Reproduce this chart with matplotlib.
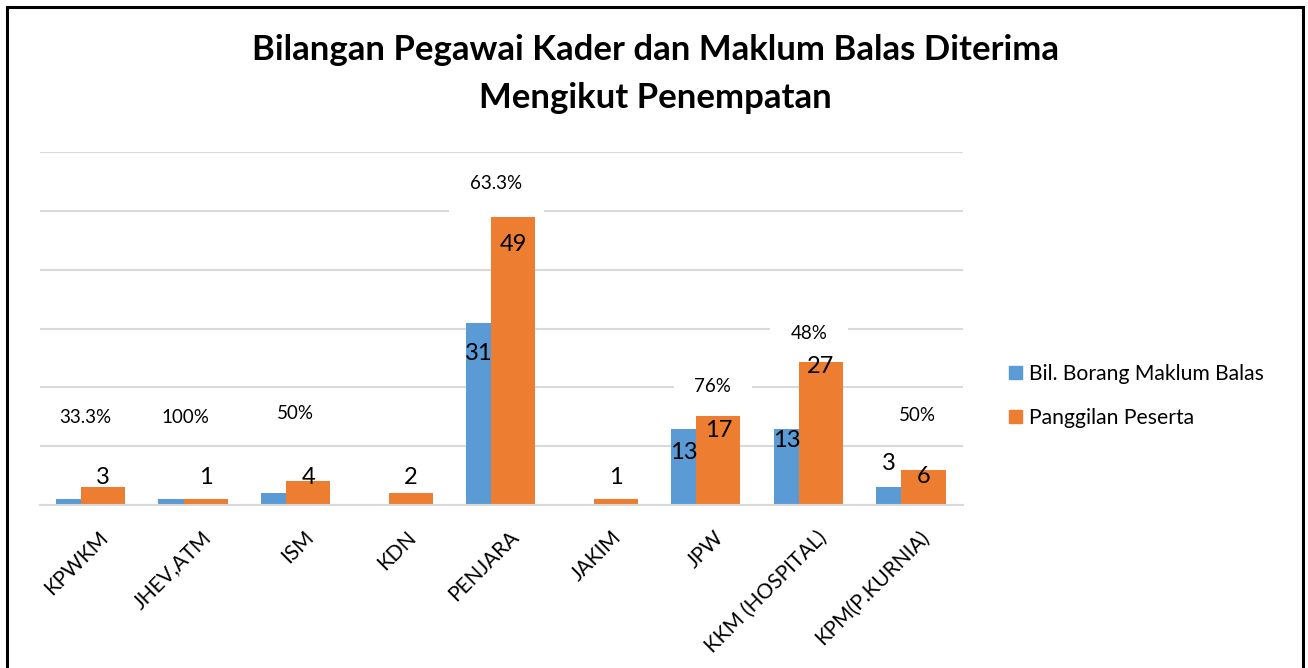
import matplotlib
matplotlib.use("Agg")
import matplotlib.pyplot as plt
from matplotlib.lines import Line2D
from matplotlib.patches import Patch
import numpy as np

plt.rcParams['font.family'] = ['Lato', 'DejaVu Sans']

categories = ["KPWKM", "JHEV,ATM", "ISM", "KDN", "PENJARA", "JAKIM", "JPW",
              "KKM (HOSPITAL)", "KPM(P.KURNIA)"]
borang = [1, 1, 2, 0, 31, 0, 13, 13, 3]
panggilan = [3, 1, 4, 2, 49, 1, 17, 27, 6]
percent_labels = ["33.3%", "100%", "50%", "", "63.3%", "", "76%", "48%", "50%"]
series_names = ["Bil. Borang Maklum Balas", "Panggilan Peserta"]
title = "Bilangan Pegawai Kader dan Maklum Balas Diterima\nMengikut Penempatan"

# label placement (layout only)
borang_label_show = [False, False, False, False, True, False, True, True, True]
borang_label_y = [0, 0, 0, 0, 25.8, 0, 9.0, 11.0, 7.0]
panggilan_label_y = [4.6, 4.6, 4.6, 4.6, 44.2, 4.6, 12.6, 23.6, 4.8]
pct_x = [-0.06, 0.92, 1.99, 0, 3.95, 0, 6.06, 7.0, 8.06]
pct_y = [14.8, 14.8, 15.5, 0, 54.6, 0, 20.1, 29.2, 15.2]
pct_pad = [0.75, 0.75, 0.75, 0, 1.15, 0, 1.1, 1.1, 0.75]

blue = "#5b9bd5"
orange = "#ed7d31"

W, H = 1308, 668
fig = plt.figure(figsize=(W / 100, H / 100), dpi=100)
ax = fig.add_axes([40 / W, 1 - 505 / H, (963 - 40) / W, (505 - 152) / H])

x = np.arange(len(categories))
bw_b = 0.245
bw_o = 0.43
left_b = -0.345
xb = x + left_b + bw_b / 2
xo = x + left_b + bw_b + bw_o / 2
ax.bar(xb, borang, width=bw_b, color=blue, zorder=2, label=series_names[0])
ax.bar(xo, panggilan, width=bw_o, color=orange, zorder=2, label=series_names[1])

ax.set_xlim(-0.5, len(categories) - 0.5)
ax.set_ylim(0, 60)
ax.set_yticks(np.arange(0, 61, 10))
ax.yaxis.grid(True, color="#d9d9d9", linewidth=1.5, zorder=0)
ax.set_axisbelow(True)
ax.tick_params(axis='y', left=False, labelleft=False)
ax.tick_params(axis='x', length=0, pad=16)
for s in ["top", "right", "left"]:
    ax.spines[s].set_visible(False)
ax.spines["bottom"].set_color("#d9d9d9")
ax.spines["bottom"].set_linewidth(1.5)
ax.set_xticks(x)
ax.set_xticklabels(categories, rotation=45, ha="right", va="top",
                   rotation_mode="anchor", fontsize=15)
for lbl in ax.get_xticklabels():
    lbl.set_transform(lbl.get_transform() +
                      matplotlib.transforms.ScaledTranslation(0.07, 0, fig.dpi_scale_trans))

for i in range(len(categories)):
    ax.text(xo[i], panggilan_label_y[i], str(panggilan[i]), ha="center",
            va="center", fontsize=17, color="black", zorder=4)
    if borang_label_show[i]:
        ax.text(xb[i], borang_label_y[i], str(borang[i]), ha="center",
                va="center", fontsize=17, color="black", zorder=4)
    if percent_labels[i]:
        ax.text(pct_x[i], pct_y[i], percent_labels[i], ha="center", va="center",
                fontsize=13.5, color="black", zorder=3,
                bbox=dict(boxstyle="square,pad=%.2f" % pct_pad[i], fc="white",
                          ec="none"))

fig.text(655 / W, 1 - 74 / H, title, ha="center", va="center", fontsize=25,
         fontweight="bold", linespacing=1.62)

handles = [Patch(color=blue), Patch(color=orange)]
fig.legend(handles, series_names, loc="center left",
           bbox_to_anchor=(990 / W, 1 - 396 / H), frameon=False, fontsize=15.2,
           handlelength=0.6, handleheight=0.6, handletextpad=0.35,
           labelspacing=1.15)

lw = 2.2
fig.add_artist(Line2D([7 / W, 7 / W], [0, 1 - 7 / H], color="black", lw=lw,
                      transform=fig.transFigure))
fig.add_artist(Line2D([7 / W, 1303 / W], [1 - 7 / H, 1 - 7 / H], color="black",
                      lw=lw, transform=fig.transFigure))
fig.add_artist(Line2D([1303 / W, 1303 / W], [0, 1 - 7 / H], color="black",
                      lw=lw, transform=fig.transFigure))

fig.savefig("out.png", dpi=100)
